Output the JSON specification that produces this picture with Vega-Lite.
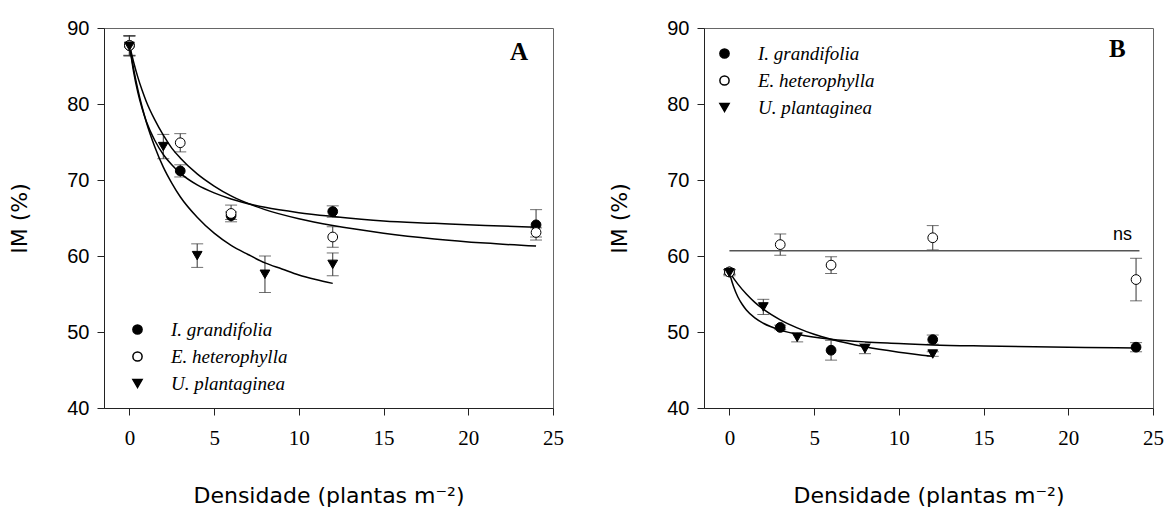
{
  "$schema": "https://vega.github.io/schema/vega-lite/v6.json",
  "background": "white",
  "padding": {"left": 8, "top": 17, "right": 5, "bottom": 5},
  "config": {
    "view": {"stroke": "#666", "strokeWidth": 1},
    "axis": {
      "grid": false, "domainColor": "#222", "tickColor": "#222", "tickSize": 7,
      "labelColor": "black", "titleColor": "black", "titleFont": "DejaVu Sans",
      "titleFontSize": 22, "titleFontWeight": "normal", "labelFlush": false, "labelOverlap": false
    },
    "axisX": {"labelFont": "Liberation Serif", "labelFontSize": 21, "labelPadding": 12, "titlePadding": 37},
    "axisY": {"labelFont": "Liberation Sans", "labelFontSize": 20, "labelPadding": 8, "titlePadding": 35},
    "legend": {
      "title": null, "orient": "none", "padding": 0, "symbolSize": 85,
      "labelFont": "Liberation Serif", "labelFontStyle": "italic", "labelFontSize": 19,
      "labelColor": "black", "labelOffset": 24, "rowPadding": 7
    }
  },
  "datasets": {
    "pts": [
      {"panel": "A", "sp": "I. grandifolia", "x": 0, "im": 87.7, "se": 1.3},
      {"panel": "A", "sp": "I. grandifolia", "x": 3, "im": 71.2, "se": 0.8},
      {"panel": "A", "sp": "I. grandifolia", "x": 6, "im": 65.3, "se": 0.5},
      {"panel": "A", "sp": "I. grandifolia", "x": 12, "im": 65.85, "se": 0.75},
      {"panel": "A", "sp": "I. grandifolia", "x": 24, "im": 64.1, "se": 2.0},
      {"panel": "A", "sp": "E. heterophylla", "x": 0, "im": 87.7, "se": 1.3},
      {"panel": "A", "sp": "E. heterophylla", "x": 3, "im": 74.9, "se": 1.2},
      {"panel": "A", "sp": "E. heterophylla", "x": 6, "im": 65.6, "se": 1.1},
      {"panel": "A", "sp": "E. heterophylla", "x": 12, "im": 62.5, "se": 1.35},
      {"panel": "A", "sp": "E. heterophylla", "x": 24, "im": 63.1, "se": 0.6},
      {"panel": "A", "sp": "U. plantaginea", "x": 0, "im": 87.6, "se": 1.3},
      {"panel": "A", "sp": "U. plantaginea", "x": 2, "im": 74.4, "se": 1.6},
      {"panel": "A", "sp": "U. plantaginea", "x": 4, "im": 60.05, "se": 1.55},
      {"panel": "A", "sp": "U. plantaginea", "x": 8, "im": 57.6, "se": 2.4},
      {"panel": "A", "sp": "U. plantaginea", "x": 12, "im": 58.9, "se": 1.5},
      {"panel": "B", "sp": "I. grandifolia", "x": 0, "im": 57.9, "se": 0.3},
      {"panel": "B", "sp": "I. grandifolia", "x": 3, "im": 50.6, "se": 0.3},
      {"panel": "B", "sp": "I. grandifolia", "x": 6, "im": 47.6, "se": 1.3},
      {"panel": "B", "sp": "I. grandifolia", "x": 12, "im": 49.0, "se": 0.6},
      {"panel": "B", "sp": "I. grandifolia", "x": 24, "im": 48.0, "se": 0.6},
      {"panel": "B", "sp": "E. heterophylla", "x": 0, "im": 57.9, "se": 0.3},
      {"panel": "B", "sp": "E. heterophylla", "x": 3, "im": 61.5, "se": 1.4},
      {"panel": "B", "sp": "E. heterophylla", "x": 6, "im": 58.8, "se": 1.1},
      {"panel": "B", "sp": "E. heterophylla", "x": 12, "im": 62.4, "se": 1.6},
      {"panel": "B", "sp": "E. heterophylla", "x": 24, "im": 56.9, "se": 2.8},
      {"panel": "B", "sp": "U. plantaginea", "x": 0, "im": 57.8, "se": 0.4},
      {"panel": "B", "sp": "U. plantaginea", "x": 2, "im": 53.3, "se": 1.0},
      {"panel": "B", "sp": "U. plantaginea", "x": 4, "im": 49.3, "se": 0.6},
      {"panel": "B", "sp": "U. plantaginea", "x": 8, "im": 47.8, "se": 0.65},
      {"panel": "B", "sp": "U. plantaginea", "x": 12, "im": 47.1, "se": 0.3}
    ],
    "fits": [
      {"panel": "A", "sp": "I. grandifolia", "x": 0, "im": 87.8},
      {"panel": "A", "sp": "I. grandifolia", "x": 0.25, "im": 84.2},
      {"panel": "A", "sp": "I. grandifolia", "x": 0.5, "im": 81.5},
      {"panel": "A", "sp": "I. grandifolia", "x": 0.75, "im": 79.4},
      {"panel": "A", "sp": "I. grandifolia", "x": 1, "im": 77.7},
      {"panel": "A", "sp": "I. grandifolia", "x": 1.5, "im": 75.2},
      {"panel": "A", "sp": "I. grandifolia", "x": 2, "im": 73.35},
      {"panel": "A", "sp": "I. grandifolia", "x": 2.5, "im": 72.0},
      {"panel": "A", "sp": "I. grandifolia", "x": 3, "im": 70.9},
      {"panel": "A", "sp": "I. grandifolia", "x": 4, "im": 69.35},
      {"panel": "A", "sp": "I. grandifolia", "x": 5, "im": 68.3},
      {"panel": "A", "sp": "I. grandifolia", "x": 6, "im": 67.5},
      {"panel": "A", "sp": "I. grandifolia", "x": 8, "im": 66.4},
      {"panel": "A", "sp": "I. grandifolia", "x": 10, "im": 65.7},
      {"panel": "A", "sp": "I. grandifolia", "x": 12, "im": 65.2},
      {"panel": "A", "sp": "I. grandifolia", "x": 15, "im": 64.6},
      {"panel": "A", "sp": "I. grandifolia", "x": 18, "im": 64.3},
      {"panel": "A", "sp": "I. grandifolia", "x": 21, "im": 64.0},
      {"panel": "A", "sp": "I. grandifolia", "x": 24, "im": 63.8},
      {"panel": "A", "sp": "E. heterophylla", "x": 0, "im": 87.8},
      {"panel": "A", "sp": "E. heterophylla", "x": 0.25, "im": 85.5},
      {"panel": "A", "sp": "E. heterophylla", "x": 0.5, "im": 83.5},
      {"panel": "A", "sp": "E. heterophylla", "x": 0.75, "im": 81.8},
      {"panel": "A", "sp": "E. heterophylla", "x": 1, "im": 80.3},
      {"panel": "A", "sp": "E. heterophylla", "x": 1.5, "im": 77.9},
      {"panel": "A", "sp": "E. heterophylla", "x": 2, "im": 75.9},
      {"panel": "A", "sp": "E. heterophylla", "x": 2.5, "im": 74.2},
      {"panel": "A", "sp": "E. heterophylla", "x": 3, "im": 72.9},
      {"panel": "A", "sp": "E. heterophylla", "x": 4, "im": 70.8},
      {"panel": "A", "sp": "E. heterophylla", "x": 5, "im": 69.2},
      {"panel": "A", "sp": "E. heterophylla", "x": 6, "im": 67.9},
      {"panel": "A", "sp": "E. heterophylla", "x": 8, "im": 66.1},
      {"panel": "A", "sp": "E. heterophylla", "x": 10, "im": 64.9},
      {"panel": "A", "sp": "E. heterophylla", "x": 12, "im": 64.0},
      {"panel": "A", "sp": "E. heterophylla", "x": 15, "im": 63.0},
      {"panel": "A", "sp": "E. heterophylla", "x": 18, "im": 62.25},
      {"panel": "A", "sp": "E. heterophylla", "x": 21, "im": 61.7},
      {"panel": "A", "sp": "E. heterophylla", "x": 24, "im": 61.3},
      {"panel": "A", "sp": "U. plantaginea", "x": 0, "im": 87.7},
      {"panel": "A", "sp": "U. plantaginea", "x": 0.25, "im": 84.6},
      {"panel": "A", "sp": "U. plantaginea", "x": 0.5, "im": 81.9},
      {"panel": "A", "sp": "U. plantaginea", "x": 0.75, "im": 79.6},
      {"panel": "A", "sp": "U. plantaginea", "x": 1, "im": 77.6},
      {"panel": "A", "sp": "U. plantaginea", "x": 1.5, "im": 74.35},
      {"panel": "A", "sp": "U. plantaginea", "x": 2, "im": 71.7},
      {"panel": "A", "sp": "U. plantaginea", "x": 2.5, "im": 69.6},
      {"panel": "A", "sp": "U. plantaginea", "x": 3, "im": 67.8},
      {"panel": "A", "sp": "U. plantaginea", "x": 4, "im": 65.1},
      {"panel": "A", "sp": "U. plantaginea", "x": 5, "im": 63.0},
      {"panel": "A", "sp": "U. plantaginea", "x": 6, "im": 61.4},
      {"panel": "A", "sp": "U. plantaginea", "x": 7, "im": 60.2},
      {"panel": "A", "sp": "U. plantaginea", "x": 8, "im": 59.1},
      {"panel": "A", "sp": "U. plantaginea", "x": 9, "im": 58.3},
      {"panel": "A", "sp": "U. plantaginea", "x": 10, "im": 57.5},
      {"panel": "A", "sp": "U. plantaginea", "x": 11, "im": 56.9},
      {"panel": "A", "sp": "U. plantaginea", "x": 12, "im": 56.4},
      {"panel": "B", "sp": "I. grandifolia", "x": 0, "im": 57.9},
      {"panel": "B", "sp": "I. grandifolia", "x": 0.1, "im": 57.0},
      {"panel": "B", "sp": "I. grandifolia", "x": 0.25, "im": 55.95},
      {"panel": "B", "sp": "I. grandifolia", "x": 0.5, "im": 54.6},
      {"panel": "B", "sp": "I. grandifolia", "x": 0.75, "im": 53.65},
      {"panel": "B", "sp": "I. grandifolia", "x": 1, "im": 52.9},
      {"panel": "B", "sp": "I. grandifolia", "x": 1.5, "im": 51.85},
      {"panel": "B", "sp": "I. grandifolia", "x": 2, "im": 51.15},
      {"panel": "B", "sp": "I. grandifolia", "x": 3, "im": 50.25},
      {"panel": "B", "sp": "I. grandifolia", "x": 4, "im": 49.7},
      {"panel": "B", "sp": "I. grandifolia", "x": 6, "im": 49.05},
      {"panel": "B", "sp": "I. grandifolia", "x": 8, "im": 48.7},
      {"panel": "B", "sp": "I. grandifolia", "x": 10, "im": 48.5},
      {"panel": "B", "sp": "I. grandifolia", "x": 12, "im": 48.3},
      {"panel": "B", "sp": "I. grandifolia", "x": 15, "im": 48.15},
      {"panel": "B", "sp": "I. grandifolia", "x": 18, "im": 48.05},
      {"panel": "B", "sp": "I. grandifolia", "x": 21, "im": 47.95},
      {"panel": "B", "sp": "I. grandifolia", "x": 24, "im": 47.9},
      {"panel": "B", "sp": "U. plantaginea", "x": 0, "im": 57.9},
      {"panel": "B", "sp": "U. plantaginea", "x": 0.25, "im": 57.05},
      {"panel": "B", "sp": "U. plantaginea", "x": 0.5, "im": 56.3},
      {"panel": "B", "sp": "U. plantaginea", "x": 1, "im": 55.0},
      {"panel": "B", "sp": "U. plantaginea", "x": 1.5, "im": 53.9},
      {"panel": "B", "sp": "U. plantaginea", "x": 2, "im": 53.0},
      {"panel": "B", "sp": "U. plantaginea", "x": 3, "im": 51.6},
      {"panel": "B", "sp": "U. plantaginea", "x": 4, "im": 50.55},
      {"panel": "B", "sp": "U. plantaginea", "x": 5, "im": 49.7},
      {"panel": "B", "sp": "U. plantaginea", "x": 6, "im": 49.05},
      {"panel": "B", "sp": "U. plantaginea", "x": 8, "im": 48.05},
      {"panel": "B", "sp": "U. plantaginea", "x": 10, "im": 47.35},
      {"panel": "B", "sp": "U. plantaginea", "x": 12, "im": 46.8}
    ],
    "media": [
      {"x": 0, "im": 60.7},
      {"x": 24.2, "im": 60.7}
    ],
    "rotA": [{"t": "A"}],
    "rotB": [{"t": "B"}],
    "ns": [{"t": "ns"}]
  },
  "bounds": "flush",
  "spacing": 151,
  "resolve": {
    "scale": {"x": "independent", "y": "independent", "shape": "independent", "fill": "independent"},
    "legend": {"shape": "independent", "fill": "independent"}
  },
  "hconcat": [
    {
      "width": 449,
      "height": 380,
      "layer": [
        {
          "data": {"name": "pts"},
          "transform": [{"filter": "datum.panel === 'A'"}],
          "mark": {"type": "errorbar", "ticks": {"color": "#333"}, "rule": {"color": "#333"}, "size": 12, "thickness": 1},
          "encoding": {
            "x": {"field": "x", "type": "quantitative", "scale": {"domain": [-1.5, 25], "nice": false, "zero": false},
                  "axis": {"values": [0, 5, 10, 15, 20, 25], "format": "d", "title": "Densidade (plantas m⁻²)"}},
            "y": {"field": "im", "type": "quantitative", "scale": {"domain": [40, 90], "nice": false, "zero": false},
                  "axis": {"values": [40, 50, 60, 70, 80, 90], "format": "d", "title": "IM (%)"}},
            "yError": {"field": "se"}
          }
        },
        {
          "data": {"name": "fits"},
          "transform": [{"filter": "datum.panel === 'A'"}],
          "mark": {"type": "line", "color": "black", "strokeWidth": 1.5, "interpolate": "monotone"},
          "encoding": {
            "x": {"field": "x", "type": "quantitative"},
            "y": {"field": "im", "type": "quantitative"},
            "detail": {"field": "sp"}
          }
        },
        {
          "data": {"name": "pts"},
          "transform": [{"filter": "datum.panel === 'A'"}],
          "mark": {"type": "point", "filled": true, "stroke": "black", "strokeWidth": 1, "opacity": 1, "size": 95},
          "encoding": {
            "x": {"field": "x", "type": "quantitative"},
            "y": {"field": "im", "type": "quantitative"},
            "shape": {"field": "sp", "type": "nominal",
                      "scale": {"domain": ["I. grandifolia", "E. heterophylla", "U. plantaginea"], "range": ["circle", "circle", "triangle-down"]},
                      "legend": {"legendX": 24, "legendY": 292,
                                 "encode": {"symbols": {"update": {"stroke": {"value": "black"}, "strokeWidth": {"value": 1}}}}}},
            "fill": {"field": "sp", "type": "nominal",
                     "scale": {"domain": ["I. grandifolia", "E. heterophylla", "U. plantaginea"], "range": ["black", "white", "black"]},
                     "legend": {"legendX": 24, "legendY": 292,
                                "encode": {"symbols": {"update": {"stroke": {"value": "black"}, "strokeWidth": {"value": 1}}}}}}
          }
        },
        {
          "data": {"name": "rotA"},
          "mark": {"type": "text", "font": "Liberation Serif", "fontWeight": "bold", "fontSize": 25, "align": "center", "baseline": "middle", "color": "black"},
          "encoding": {
            "x": {"datum": 23.0, "type": "quantitative"},
            "y": {"datum": 86.8, "type": "quantitative"},
            "text": {"field": "t"}
          }
        }
      ]
    },
    {
      "width": 449,
      "height": 380,
      "layer": [
        {
          "data": {"name": "pts"},
          "transform": [{"filter": "datum.panel === 'B'"}],
          "mark": {"type": "errorbar", "ticks": {"color": "#333"}, "rule": {"color": "#333"}, "size": 12, "thickness": 1},
          "encoding": {
            "x": {"field": "x", "type": "quantitative", "scale": {"domain": [-1.5, 25], "nice": false, "zero": false},
                  "axis": {"values": [0, 5, 10, 15, 20, 25], "format": "d", "title": "Densidade (plantas m⁻²)"}},
            "y": {"field": "im", "type": "quantitative", "scale": {"domain": [40, 90], "nice": false, "zero": false},
                  "axis": {"values": [40, 50, 60, 70, 80, 90], "format": "d", "title": "IM (%)"}},
            "yError": {"field": "se"}
          }
        },
        {
          "data": {"name": "media"},
          "mark": {"type": "line", "color": "#555", "strokeWidth": 1.5},
          "encoding": {
            "x": {"field": "x", "type": "quantitative"},
            "y": {"field": "im", "type": "quantitative"}
          }
        },
        {
          "data": {"name": "fits"},
          "transform": [{"filter": "datum.panel === 'B'"}],
          "mark": {"type": "line", "color": "black", "strokeWidth": 1.5, "interpolate": "monotone"},
          "encoding": {
            "x": {"field": "x", "type": "quantitative"},
            "y": {"field": "im", "type": "quantitative"},
            "detail": {"field": "sp"}
          }
        },
        {
          "data": {"name": "pts"},
          "transform": [{"filter": "datum.panel === 'B'"}],
          "mark": {"type": "point", "filled": true, "stroke": "black", "strokeWidth": 1, "opacity": 1, "size": 95},
          "encoding": {
            "x": {"field": "x", "type": "quantitative"},
            "y": {"field": "im", "type": "quantitative"},
            "shape": {"field": "sp", "type": "nominal",
                      "scale": {"domain": ["I. grandifolia", "E. heterophylla", "U. plantaginea"], "range": ["circle", "circle", "triangle-down"]},
                      "legend": {"legendX": 11, "legendY": 16,
                                 "encode": {"symbols": {"update": {"stroke": {"value": "black"}, "strokeWidth": {"value": 1}}}}}},
            "fill": {"field": "sp", "type": "nominal",
                     "scale": {"domain": ["I. grandifolia", "E. heterophylla", "U. plantaginea"], "range": ["black", "white", "black"]},
                     "legend": {"legendX": 11, "legendY": 16,
                                "encode": {"symbols": {"update": {"stroke": {"value": "black"}, "strokeWidth": {"value": 1}}}}}}
          }
        },
        {
          "data": {"name": "rotB"},
          "mark": {"type": "text", "font": "Liberation Serif", "fontWeight": "bold", "fontSize": 25, "align": "center", "baseline": "middle", "color": "black"},
          "encoding": {
            "x": {"datum": 22.9, "type": "quantitative"},
            "y": {"datum": 87.3, "type": "quantitative"},
            "text": {"field": "t"}
          }
        },
        {
          "data": {"name": "ns"},
          "mark": {"type": "text", "font": "Liberation Sans", "fontSize": 18, "align": "center", "baseline": "middle", "color": "black"},
          "encoding": {
            "x": {"datum": 23.2, "type": "quantitative"},
            "y": {"datum": 62.8, "type": "quantitative"},
            "text": {"field": "t"}
          }
        }
      ]
    }
  ]
}
